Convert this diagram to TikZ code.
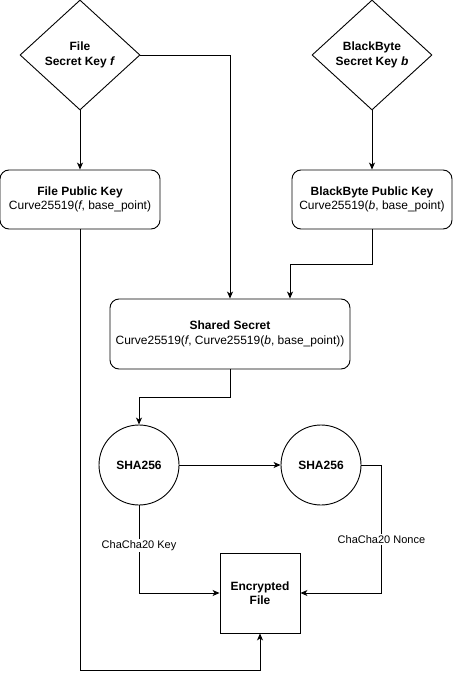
\documentclass[tikz,border=0pt]{standalone}
\usepackage{fontspec}
\setmainfont{Liberation Sans}
\usetikzlibrary{shapes.geometric,arrows.meta,calc}
\begin{document}
\begin{tikzpicture}[x=1pt,y=-1pt,
  every node/.style={font=\fontsize{12}{14.5}\selectfont, align=center, inner sep=0pt},
  decision/.style={draw, diamond, aspect=1.09, minimum width=120pt, minimum height=110pt, line width=0.9pt},
  keybox/.style={draw, rounded corners=9pt, minimum height=59pt, line width=0.9pt},
  hashnode/.style={draw, circle, minimum size=80pt, line width=0.9pt},
  filebox/.style={draw, minimum width=80pt, minimum height=80pt, line width=0.9pt},
  arr/.style={-{Stealth[length=7pt,width=6pt,inset=2pt]}, line width=0.9pt},
  edgelabel/.style={font=\fontsize{11}{13}\selectfont, fill=white, inner sep=1.5pt}
]
\useasboundingbox (0,0) rectangle (453,679);
\node[decision] (d1) at (80,55) {\textbf{File}\\\textbf{Secret Key \textit{f}}};
\node[decision] (d2) at (372,55) {\textbf{BlackByte}\\\textbf{Secret Key \textit{b}}};
\node[keybox, minimum width=160pt] (fpk) at (80,199.5) {\textbf{File Public Key}\\Curve25519(\textit{f}, base\_point)};
\node[keybox, minimum width=160pt] (bpk) at (372,199.5) {\textbf{BlackByte Public Key}\\Curve25519(\textit{b}, base\_point)};
\node[keybox, minimum width=240pt, minimum height=70pt] (ss) at (230,334) {\textbf{Shared Secret}\\Curve25519(\textit{f}, Curve25519(\textit{b}, base\_point))};
\node[hashnode] (h1) at (139,465) {\textbf{SHA256}};
\node[hashnode] (h2) at (321,465) {\textbf{SHA256}};
\node[filebox] (ef) at (260,593) {\textbf{Encrypted}\\\textbf{File}};
\coordinate (fcorner) at (80,670);

\draw[arr] (d1) -- (fpk);
\draw[arr] (d2) -- (bpk);
\draw[arr] (d1.east) -| (ss.north);
\draw[arr] (bpk.south) -- ++(0,35) -| ([xshift=60pt]ss.north);
\draw[arr] (ss.south) -- ++(0,28) -| (h1.north);
\draw[arr] (h1) -- (h2);
\draw[arr] (h1.south) |- node[edgelabel, pos=0.23] {ChaCha20 Key} (ef.west);
\draw[arr] (h2.east) -- ++(20,0) |- node[edgelabel, pos=0.29] {ChaCha20 Nonce} (ef.east);
\draw[arr] (fpk.south) -- (fcorner) -| (ef.south);
\end{tikzpicture}
\end{document}
